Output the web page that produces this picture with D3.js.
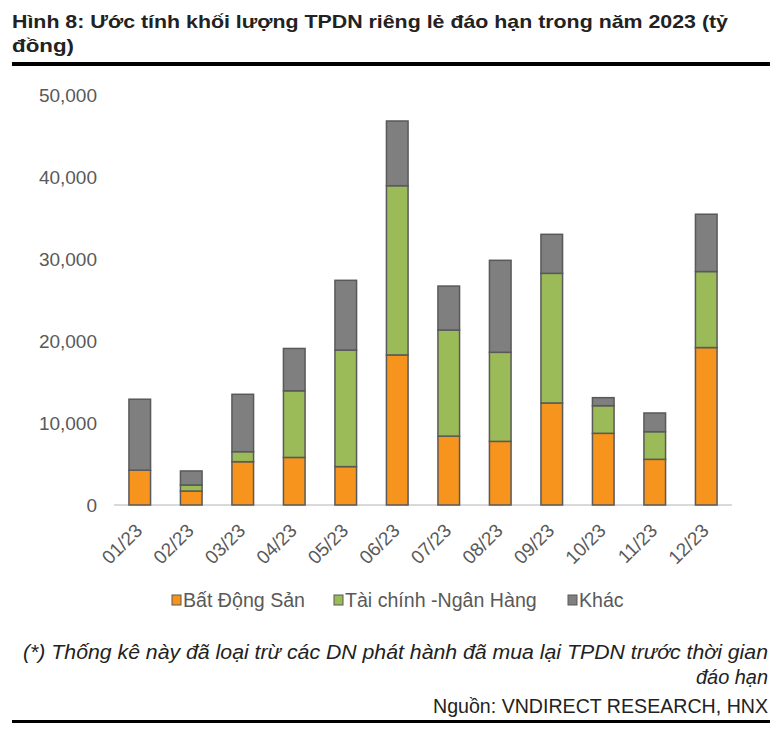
<!DOCTYPE html>
<html><head><meta charset="utf-8">
<script src="https://cdn.jsdelivr.net/npm/d3@7"></script>
<style>body{margin:0;background:#fff}svg{display:block}</style>
</head><body>
<script>
const months = ["01/23","02/23","03/23","04/23","05/23","06/23","07/23","08/23","09/23","10/23","11/23","12/23"];
const batDongSan = [4250, 1700, 5280, 5800, 4680, 18300, 8400, 7760, 12440, 8740, 5570, 19200];
const taiChinhNganHang = [0, 740, 1220, 8130, 14220, 20640, 12940, 10860, 15810, 3370, 3370, 9270];
const khac = [8650, 1710, 7000, 5160, 8500, 7890, 5360, 11220, 4760, 980, 2280, 6990];
const seriesNames = ["Bất Động Sản", "Tài chính -Ngân Hàng", "Khác"];
const seriesColors = ["#F7941D", "#9BBB59", "#7F7F7F"];
const yTicks = [0, 10000, 20000, 30000, 40000, 50000];

const W = 783, H = 731;
const svg = d3.select("body").append("svg").attr("width", W).attr("height", H);
const font = "'Liberation Sans', Arial, sans-serif";

// Title
const title = svg.append("text").attr("font-family", font).attr("font-weight", "bold")
  .attr("font-size", 19).attr("fill", "#222");
title.append("tspan").attr("x", 12).attr("y", 28)
  .attr("textLength", 716).attr("lengthAdjust", "spacingAndGlyphs")
  .text("Hình 8: Ước tính khối lượng TPDN riêng lẻ đáo hạn trong năm 2023 (tỷ");
title.append("tspan").attr("x", 12).attr("y", 52)
  .attr("textLength", 62).attr("lengthAdjust", "spacingAndGlyphs").text("đồng)");
svg.append("rect").attr("x", 12).attr("y", 62).attr("width", 758).attr("height", 4).attr("fill", "#000");

// Scales
const x = d3.scaleBand().domain(months).range([114, 732]).paddingInner(0.58).paddingOuter(0.29);
const y = d3.scaleLinear().domain([0, 50000]).range([505, 95]);

const rows = months.map((m, i) => ({ m, s0: batDongSan[i], s1: taiChinhNganHang[i], s2: khac[i] }));
const stack = d3.stack().keys(["s0", "s1", "s2"])(rows);

// Y axis
const yAxis = svg.append("g").attr("transform", "translate(97,0)")
  .call(d3.axisLeft(y).tickValues(yTicks).tickSize(0).tickPadding(0).tickFormat(d3.format(",")));
yAxis.select(".domain").remove();
yAxis.selectAll("text").attr("font-family", font).attr("font-size", 19).attr("fill", "#595959");

// X axis
const xAxis = svg.append("g").attr("transform", "translate(0,505)")
  .call(d3.axisBottom(x).tickSize(0).tickPadding(0));
xAxis.select(".domain").attr("stroke", "#D9D9D9").attr("stroke-width", 2)
  .attr("d", `M${x.range()[0]},0H${x.range()[1]}`);
xAxis.selectAll(".tick text").attr("font-family", font).attr("font-size", 19).attr("fill", "#595959")
  .attr("text-anchor", "end").attr("dy", "0.35em")
  .attr("transform", "translate(-1,22) rotate(-45)");

// Bars
svg.append("g").selectAll("g").data(stack).join("g")
  .attr("fill", (d, i) => seriesColors[i])
  .selectAll("rect").data(d => d.filter(p => p[1] - p[0] > 0)).join("rect")
  .attr("x", d => x(d.data.m))
  .attr("width", x.bandwidth())
  .attr("y", d => y(d[1]))
  .attr("height", d => y(d[0]) - y(d[1]))
  .attr("stroke", "#595959").attr("stroke-width", 1.5);

// Legend
const legendX = [172, 334, 568];
const lg = svg.append("g").selectAll("g").data(seriesNames).join("g")
  .attr("transform", (d, i) => `translate(${legendX[i]},600)`);
lg.append("rect").attr("x", 0).attr("y", -5).attr("width", 9).attr("height", 10)
  .attr("fill", (d, i) => seriesColors[i]).attr("stroke", "#595959").attr("stroke-width", 1);
lg.append("text").attr("x", 11).attr("dy", "0.35em").attr("font-family", font).attr("font-size", 19.6)
  .attr("fill", "#595959").text(d => d);

// Footer
const fn = svg.append("text").attr("font-family", font).attr("font-style", "italic")
  .attr("font-size", 20).attr("fill", "#222").attr("text-anchor", "end");
fn.append("tspan").attr("x", 768).attr("y", 659)
  .attr("textLength", 745).attr("lengthAdjust", "spacingAndGlyphs")
  .text("(*) Thống kê này đã loại trừ các DN phát hành đã mua lại TPDN trước thời gian");
fn.append("tspan").attr("x", 768).attr("y", 684)
  .attr("textLength", 72).attr("lengthAdjust", "spacingAndGlyphs").text("đáo hạn");
svg.append("text").attr("x", 768).attr("y", 713).attr("text-anchor", "end")
  .attr("font-family", font).attr("font-size", 19.6).attr("fill", "#222")
  .text("Nguồn: VNDIRECT RESEARCH, HNX");
svg.append("rect").attr("x", 12).attr("y", 720).attr("width", 758).attr("height", 3).attr("fill", "#000");
</script>
</body></html>
